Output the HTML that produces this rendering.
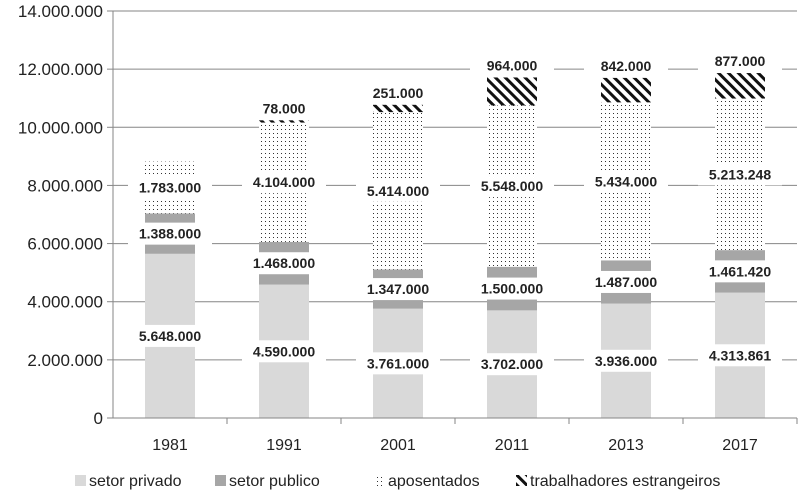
<!DOCTYPE html>
<html><head><meta charset="utf-8"><style>
body{margin:0;background:#fff}
svg{display:block;font-family:"Liberation Sans",sans-serif}
</style></head><body>
<svg id="c" width="800" height="497">
<defs>
<pattern id="dots" width="4" height="4" patternUnits="userSpaceOnUse"><rect width="4" height="4" fill="#fff"/><rect x="1" y="1" width="1" height="1" fill="#333"/></pattern>
<pattern id="hatch" width="7" height="7" patternUnits="userSpaceOnUse" patternTransform="rotate(-45)"><rect width="7" height="7" fill="#fff"/><rect width="3" height="7" fill="#111"/></pattern>
</defs>
</svg>
<script>
const categories=["1981","1991","2001","2011","2013","2017"];
const setorPrivado=[5648000,4590000,3761000,3702000,3936000,4313861];
const setorPublico=[1388000,1468000,1347000,1500000,1487000,1461420];
const aposentados=[1783000,4104000,5414000,5548000,5434000,5213248];
const estrangeiros=[0,78000,251000,964000,842000,877000];
const yTicks=[0,2000000,4000000,6000000,8000000,10000000,12000000,14000000];
const fmt=v=>Math.round(v).toString().replace(/\B(?=(\d{3})+(?!\d))/g,".");
const svg=document.getElementById('c');const NS='http://www.w3.org/2000/svg';
function el(t,a,p){const e=document.createElementNS(NS,t);for(const k in a)e.setAttribute(k,a[k]);(p||svg).appendChild(e);return e;}
const x0=113,x1=797,yTop=11,yBot=418,yMax=14000000;
const y=v=>yBot-(v/yMax)*(yBot-yTop);
const band=(x1-x0)/categories.length;
const xc=i=>x0+band*(i+0.5);
yTicks.forEach(t=>{
  if(t>0){const g=el('line',{x1:x0,x2:x1,y1:y(t),y2:y(t),stroke:'#868686','stroke-width':1});
  
  }
  const tk=el('line',{x1:x0-6,x2:x0,y1:y(t),y2:y(t),stroke:'#868686'});
  
  
  const tx=el('text',{x:x0-10,y:y(t)+6,'text-anchor':'end','font-size':17,fill:'#222'});tx.textContent=fmt(t);
  
  
});
const series=[[setorPrivado,'#d9d9d9','setor-privado'],[setorPublico,'#a6a6a6','setor-publico'],[aposentados,'url(#dots)','aposentados'],[estrangeiros,'url(#hatch)','trabalhadores-estrangeiros']];
const bw=50;const labels=[];
categories.forEach((c,i)=>{
  let base=0;
  series.forEach(([arr,fill,name],si)=>{
    const v=arr[i];
    if(v>0){const r=el('rect',{x:xc(i)-bw/2,y:y(base+v),width:bw,height:y(base)-y(base+v),fill:fill});
    
    
    const ly=si===3?y(base+v)-12:(y(base)+y(base+v))/2;
    labels.push([xc(i),ly,v]);}
    base+=v;
  });
  const t=el('text',{x:xc(i),y:yBot+32,'text-anchor':'middle','font-size':16,fill:'#222'});t.textContent=c;
  
  
  const tk=el('line',{x1:x0+band*(i+1),x2:x0+band*(i+1),y1:yBot,y2:yBot+6,stroke:'#868686'});
  
  
});
labels.forEach(([lx,ly,v])=>{
  const b=el('rect',{x:lx-42,y:ly-11,width:84,height:22,fill:'#fff'});
  
  
  const t=el('text',{x:lx,y:ly+5,'text-anchor':'middle','font-size':14,'font-weight':'bold',fill:'#222'});t.textContent=fmt(v);
  
  
});
const ax=el('line',{x1:x0,x2:x0,y1:yTop,y2:yBot,stroke:'#868686'});


const xa=el('line',{x1:x0,x2:x1,y1:yBot,y2:yBot,stroke:'#868686'});


const leg=[['#d9d9d9','setor privado',75],['#a6a6a6','setor publico',215],['url(#dots)','aposentados',374],['url(#hatch)','trabalhadores estrangeiros',516]];
leg.forEach(([f,txt,lx])=>{
  const s=el('rect',{x:lx,y:475,width:11,height:11,fill:f});
  
  
  const t=el('text',{x:lx+14,y:486,'font-size':16,fill:'#222'});t.textContent=txt;
  
  
});
</script>
</body></html>
